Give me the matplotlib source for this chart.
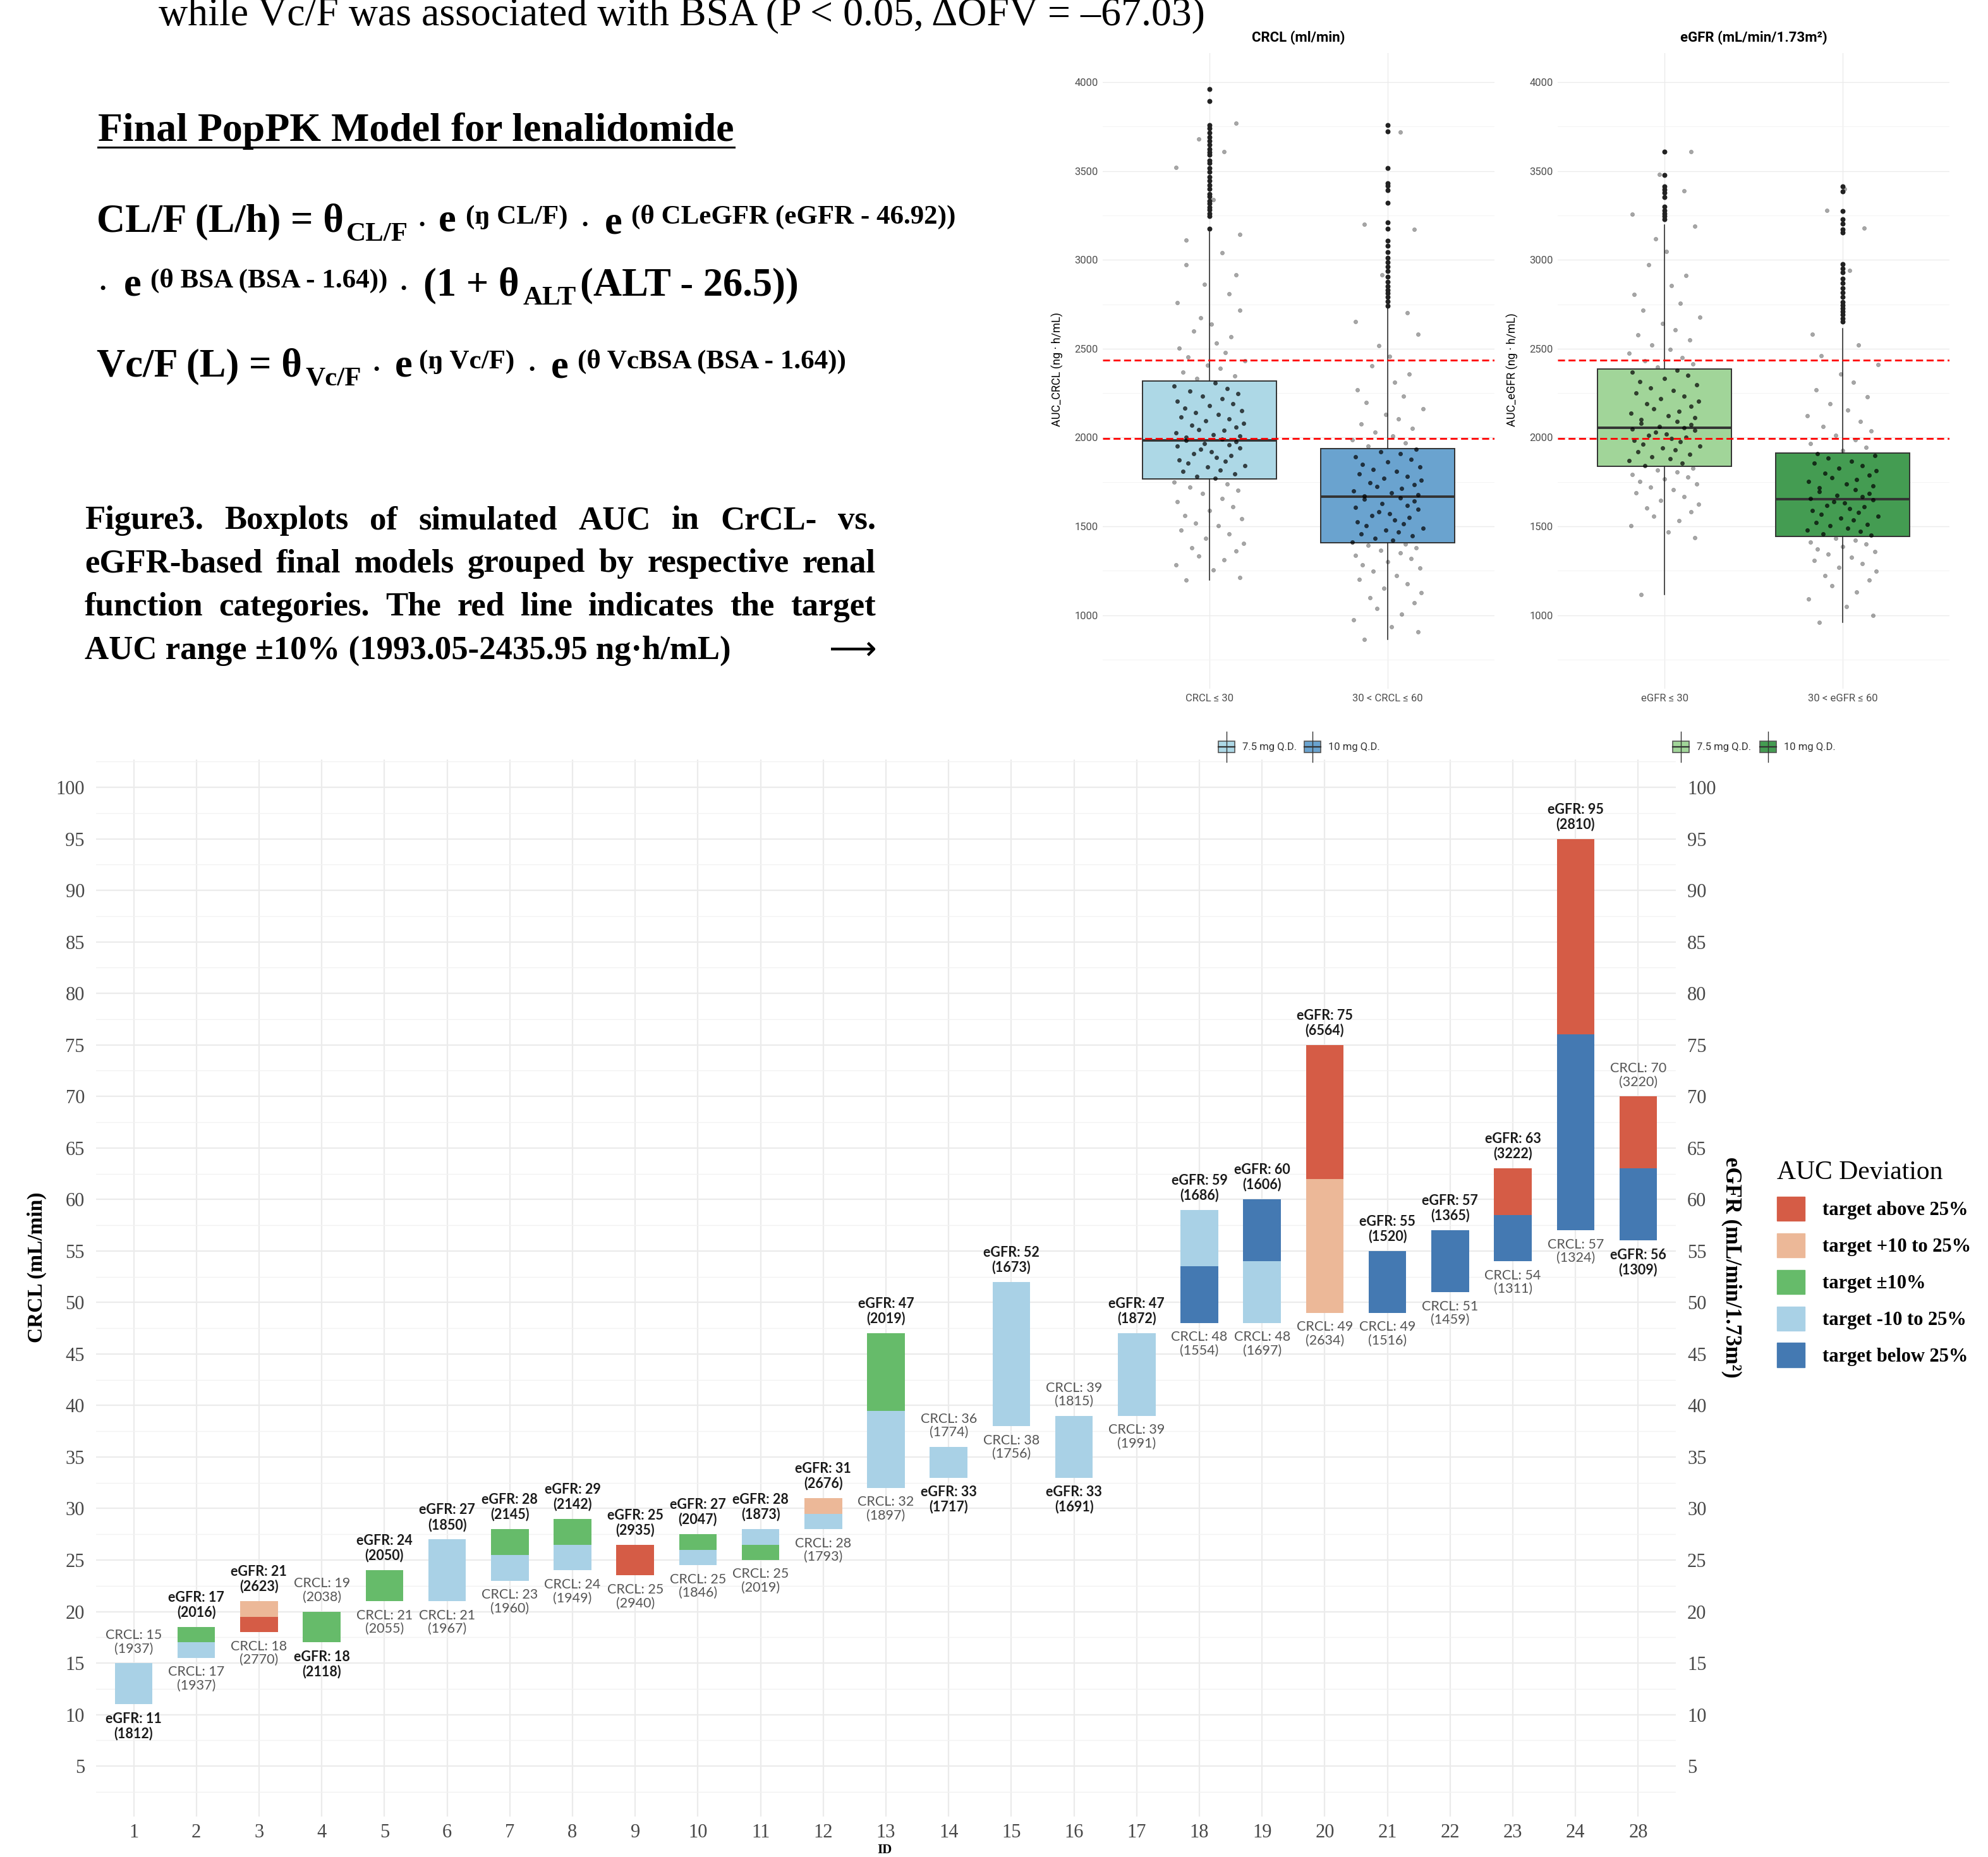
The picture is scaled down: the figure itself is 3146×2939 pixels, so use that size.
import matplotlib
matplotlib.use("Agg")
import matplotlib.pyplot as plt
from matplotlib import font_manager
from matplotlib.patches import Patch, Rectangle
from matplotlib.lines import Line2D

# ---------------- datos por paciente (gráfico inferior) ----------------
ids = ["1", "2", "3", "4", "5", "6", "7", "8", "9", "10", "11", "12", "13",
       "14", "15", "16", "17", "18", "19", "20", "21", "22", "23", "24", "28"]
crcl = [15, 17, 18, 19, 21, 21, 23, 24, 25, 25, 25, 28, 32,
        36, 38, 39, 39, 48, 48, 49, 49, 51, 54, 57, 70]
egfr = [11, 17, 21, 18, 24, 27, 28, 29, 25, 27, 28, 31, 47,
        33, 52, 33, 47, 59, 60, 75, 55, 57, 63, 95, 56]
auc_crcl = [1937, 1937, 2770, 2038, 2055, 1967, 1960, 1949, 2940, 1846, 2019, 1793, 1897,
            1774, 1756, 1815, 1991, 1554, 1697, 2634, 1516, 1459, 1311, 1324, 3220]
auc_egfr = [1812, 2016, 2623, 2118, 2050, 1850, 2145, 2142, 2935, 2047, 1873, 2676, 2019,
            1717, 1673, 1691, 1872, 1686, 1606, 6564, 1520, 1365, 3222, 2810, 1309]

# rango objetivo de AUC (ng·h/mL)
auc_lo, auc_hi = 1993.05, 2435.95

cat_labels = ["target above 25%", "target +10 to 25%", "target ±10%",
              "target -10 to 25%", "target below 25%"]
cat_colors = ["#d55c46", "#ecb898", "#66bb6a", "#a9d1e6", "#4479b2"]

# ---------------- datos de los boxplots ----------------
crcl_groups = ["CRCL ≤ 30", "30 < CRCL ≤ 60"]
egfr_groups = ["eGFR ≤ 30", "30 < eGFR ≤ 60"]
doses = ["7.5 mg Q.D.", "10 mg Q.D."]

# q1, mediana, q3 y extremos de los bigotes
crcl_q1 = [1767, 1408]
crcl_med = [1982, 1667]
crcl_q3 = [2319, 1938]
crcl_wlo = [1199, 864]
crcl_whi = [3157, 2730]

egfr_q1 = [1838, 1444]
egfr_med = [2055, 1653]
egfr_q3 = [2385, 1914]
egfr_wlo = [1117, 960]
egfr_whi = [3195, 2613]

auc_crcl_le30 = [1199, 1212, 1255, 1283, 1310, 1334, 1362, 1378, 1405, 1431, 1458, 1479, 1502,
                 1518, 1544, 1561, 1590, 1612, 1638, 1655, 1684, 1702, 1721, 1738, 1750,
                 1772, 1781, 1796, 1809, 1818, 1833, 1841, 1856, 1868, 1874, 1889, 1897, 1910,
                 1921, 1933, 1940, 1951, 1958, 1966, 1977, 1985, 1992, 2001, 2009, 2017, 2028,
                 2039, 2046, 2058, 2069, 2081, 2093, 2104, 2117, 2128, 2139, 2152, 2166, 2178,
                 2191, 2203, 2219, 2234, 2247, 2262, 2276, 2291, 2306,
                 2331, 2348, 2367, 2389, 2406, 2431, 2452, 2478, 2503, 2531, 2566, 2598, 2637,
                 2672, 2715, 2760, 2808, 2862, 2915, 2973, 3040, 3110, 3145, 3340, 3520, 3610,
                 3680, 3770]
auc_crcl_30_60 = [864, 905, 936, 972, 1005, 1038, 1070, 1098, 1125, 1152, 1178, 1201, 1223,
                  1247, 1266, 1284, 1302, 1320, 1337, 1351, 1366, 1380, 1393, 1402,
                  1412, 1421, 1432, 1445, 1456, 1468, 1479, 1491, 1503, 1514, 1526, 1537, 1549,
                  1560, 1572, 1583, 1595, 1606, 1618, 1629, 1641, 1652, 1661, 1670, 1679, 1690,
                  1701, 1713, 1724, 1736, 1747, 1759, 1770, 1782, 1795, 1808, 1821, 1835, 1849,
                  1863, 1878, 1893, 1908, 1921, 1933,
                  1951, 1968, 1987, 2008, 2029, 2053, 2078, 2104, 2131, 2163, 2196, 2232, 2270,
                  2311, 2356, 2405, 2458, 2517, 2580, 2652, 2701, 2915, 3170, 3200, 3720]
auc_egfr_le30 = [1117, 1435, 1468, 1502, 1531, 1556, 1581, 1603, 1625, 1646, 1668, 1689, 1706,
                 1722, 1738, 1751, 1766, 1779, 1792, 1805, 1816, 1827,
                 1843, 1856, 1869, 1880, 1893, 1905, 1918, 1930, 1941, 1953, 1964, 1975, 1985,
                 1994, 2003, 2012, 2021, 2030, 2039, 2047, 2055, 2063, 2072, 2081, 2091, 2101,
                 2112, 2124, 2136, 2149, 2162, 2175, 2189, 2204, 2219, 2234, 2249, 2264, 2280,
                 2296, 2313, 2331, 2349, 2367, 2380,
                 2398, 2414, 2432, 2451, 2473, 2495, 2521, 2548, 2576, 2607, 2640, 2676, 2715,
                 2757, 2804, 2855, 2912, 2973, 3046, 3120, 3190, 3258, 3390, 3480, 3610]
auc_egfr_30_60 = [960, 1000, 1048, 1092, 1131, 1165, 1196, 1222, 1246, 1268, 1289, 1308, 1326,
                  1342, 1358, 1372, 1386, 1399, 1411, 1422, 1433,
                  1449, 1459, 1470, 1480, 1491, 1502, 1512, 1523, 1534, 1545, 1556, 1566, 1577,
                  1588, 1598, 1609, 1619, 1630, 1640, 1649, 1657, 1666, 1676, 1686, 1696, 1707,
                  1718, 1729, 1740, 1751, 1763, 1775, 1787, 1800, 1813, 1826, 1840, 1854, 1868,
                  1883, 1898, 1910,
                  1928, 1946, 1966, 1988, 2011, 2036, 2063, 2092, 2122, 2155, 2191, 2228, 2268,
                  2312, 2358, 2409, 2462, 2520, 2583, 2940, 3180, 3280, 3400]

out_crcl_le30 = [3175, 3248, 3262, 3281, 3296, 3318, 3333, 3355, 3372, 3398, 3421, 3446, 3468,
                 3495, 3517, 3545, 3561, 3590, 3606, 3625, 3648, 3668, 3690, 3715, 3741, 3758,
                 3893, 3962]
out_crcl_30_60 = [2742, 2768, 2790, 2812, 2830, 2851, 2876, 2905, 2937, 2962, 2985, 3011, 3042,
                  3078, 3106, 3175, 3210, 3321, 3393, 3418, 3432, 3518, 3722, 3760]
out_egfr_le30 = [3228, 3246, 3262, 3279, 3301, 3352, 3378, 3395, 3412, 3478, 3608]
out_egfr_30_60 = [2652, 2671, 2690, 2708, 2727, 2745, 2763, 2790, 2815, 2840, 2868, 2895, 2930,
                  2952, 2975, 3155, 3172, 3205, 3230, 3275, 3385, 3412]

# desplazamientos horizontales de los puntos (jitter)
jitter = [-0.13, 0.17, 0.02, -0.19, 0.08, -0.06, 0.15, -0.10, 0.19, -0.02, 0.11, -0.16, 0.05,
          -0.08, 0.18, -0.14, 0.00, 0.13, -0.18, 0.07, -0.04, 0.16, -0.11, 0.10, -0.20, 0.03,
          -0.07, 0.14, -0.15, 0.06, -0.01, 0.20, -0.12, 0.09, -0.17, 0.04, 0.12, -0.09, 0.01,
          -0.05, 0.17, -0.18, 0.11, -0.03, 0.15, -0.13, 0.07]

# ---------------- figura ----------------
W, H = 3146, 2939
fig = plt.figure(figsize=(W / 100, H / 100), dpi=100)
fig.patch.set_facecolor("white")
renderer = fig.canvas.get_renderer()

disponibles = {f.name for f in font_manager.fontManager.ttflist}
SERIF = "Liberation Serif"
SANS = "Liberation Sans Narrow" if "Liberation Sans Narrow" in disponibles else "Roboto"
LABEL = "Lato"


def fx(px):
    return px / W


def fy(py):
    return 1 - py / H


# ---------------- texto de la izquierda ----------------
fig.text(fx(251), fy(40), "while Vc/F was associated with BSA (P < 0.05, ΔOFV = –67.03)",
         family=SERIF, fontsize=46, va="baseline", ha="left")

t = fig.text(fx(155), fy(223), "Final PopPK Model for lenalidomide", family=SERIF,
             fontsize=46, fontweight="bold", va="baseline", ha="left")
ancho = t.get_window_extent(renderer).width
fig.add_artist(Line2D([fx(155), fx(155 + ancho)], [fy(233), fy(233)], color="black", lw=2.2))


def linea_formula(x0, base, piezas):
    # piezas: (texto, tamaño, desplazamiento vertical px, hueco posterior px)
    x = x0
    for s, size, dy, gap in piezas:
        a = fig.text(fx(x), fy(base - dy), s, family=SERIF, fontsize=size,
                     fontweight="bold", va="baseline", ha="left")
        x += a.get_window_extent(renderer).width + gap


MAIN, SMALL = 45, 31
linea_formula(153, 366, [("CL/F (L/h) = θ", MAIN, 0, 4), ("CL/F", SMALL, -15, 14),
                         ("·", SMALL, -3, 20), ("e", MAIN, 0, 15), ("(ŋ CL/F)", SMALL, 12, 20),
                         ("·", SMALL, -3, 24), ("e", MAIN, -3, 14),
                         ("(θ CLeGFR (eGFR - 46.92))", SMALL, 12, 0)])
linea_formula(155, 467, [("·", SMALL, -3, 26), ("e", MAIN, 0, 15),
                         ("(θ BSA (BSA - 1.64))", SMALL, 12, 18), ("·", SMALL, -3, 24),
                         ("(1 + θ", MAIN, 0, 6), ("ALT", SMALL, -15, 6),
                         ("(ALT - 26.5))", MAIN, 0, 0)])
linea_formula(153, 595, [("Vc/F (L) = θ", MAIN, 0, 6), ("Vc/F", SMALL, -15, 16),
                         ("·", SMALL, -3, 22), ("e", MAIN, 0, 10), ("(ŋ Vc/F)", SMALL, 12, 20),
                         ("·", SMALL, -3, 24), ("e", MAIN, -3, 14),
                         ("(θ VcBSA (BSA - 1.64))", SMALL, 12, 0)])


def linea_justificada(texto, x0, x1, base, size):
    palabras = texto.split()
    arts = [fig.text(0, fy(base), p, family=SERIF, fontsize=size, fontweight="bold",
                     va="baseline", ha="left") for p in palabras]
    anchos = [a.get_window_extent(renderer).width for a in arts]
    hueco = (x1 - x0 - sum(anchos)) / (len(palabras) - 1)
    x = x0
    for a, w in zip(arts, anchos):
        a.set_x(fx(x))
        x += w + hueco


caption = ["Figure3. Boxplots of simulated AUC in CrCL- vs.",
           "eGFR-based final models grouped by respective renal",
           "function categories. The red line indicates the target"]
for k, linea in enumerate(caption):
    linea_justificada(linea, 134, 1386, 837 + 68.5 * k, 38)
fig.text(fx(134), fy(1043), "AUC range ±10% (1993.05-2435.95 ng·h/mL)", family=SERIF,
         fontsize=38, fontweight="bold", va="baseline", ha="left")
fig.text(fx(1312), fy(1043), "⟶", family=[SERIF, "DejaVu Sans"], fontsize=38,
         va="baseline", ha="left")


# ---------------- boxplots (arriba a la derecha) ----------------
def panel_cajas(left, titulo, ylabel, grupos, q1, med, q3, wlo, whi, puntos, atipicos, colores):
    ax = fig.add_axes([fx(left), fy(1090), 620 / W, 1006 / H])
    ax.set_xlim(0.4, 2.6)
    ax.set_ylim(586, 4164)
    ax.set_yticks([1000, 1500, 2000, 2500, 3000, 3500, 4000])
    ax.set_yticks([750, 1250, 1750, 2250, 2750, 3250, 3750], minor=True)
    ax.set_xticks([1, 2])
    ax.set_xticklabels(grupos)
    ax.grid(which="major", color="#ebebeb", lw=1.0)
    ax.grid(which="minor", axis="y", color="#f3f3f3", lw=0.7)
    ax.set_axisbelow(True)
    for s in ax.spines.values():
        s.set_visible(False)
    ax.tick_params(which="both", length=0, labelsize=12, labelcolor="#4d4d4d")
    ax.tick_params(axis="x", pad=6)
    ax.tick_params(axis="y", pad=5)
    for lab in ax.get_xticklabels() + ax.get_yticklabels():
        lab.set_family(SANS)

    for i in range(2):
        vals = puntos[i]
        xs = [i + 1 + jitter[k % len(jitter)] for k in range(len(vals))]
        fuera = [(x, v) for x, v in zip(xs, vals) if v < q1[i] or v > q3[i]]
        dentro = [(x, v) for x, v in zip(xs, vals) if q1[i] <= v <= q3[i]]
        ax.scatter([p[0] for p in fuera], [p[1] for p in fuera], s=20, color="black",
                   alpha=0.35, linewidths=0.4, zorder=1)
        ax.scatter([p[0] for p in dentro], [p[1] for p in dentro], s=20, color="black",
                   alpha=0.7, linewidths=0.4, zorder=4)
        ax.scatter([i + 1] * len(atipicos[i]), atipicos[i], s=22, color="#222222", zorder=3)

    stats = [dict(med=med[i], q1=q1[i], q3=q3[i], whislo=wlo[i], whishi=whi[i], fliers=[])
             for i in range(2)]
    bp = ax.bxp(stats, positions=[1, 2], widths=0.75, patch_artist=True, showcaps=False,
                showfliers=False, manage_ticks=False,
                boxprops=dict(edgecolor="#333333", linewidth=1.4),
                whiskerprops=dict(color="#222222", linewidth=1.1),
                medianprops=dict(color="#333333", linewidth=2.8))
    for caja, c in zip(bp["boxes"], colores):
        caja.set_facecolor(c)
        caja.set_zorder(2)
    for ln in bp["whiskers"] + bp["medians"]:
        ln.set_zorder(3)

    for v in (auc_lo, auc_hi):
        ax.axhline(v, color="red", lw=2.0, ls=(0, (4, 2)), zorder=5)

    xc = left + 310
    fig.text(fx(xc), fy(60), titulo, family=SANS, fontsize=16, fontweight="bold",
             ha="center", va="center")
    fig.text(fx(left - 72), fy(585), ylabel, family=SANS, fontsize=13, rotation=90,
             ha="center", va="center")
    return ax


panel_cajas(1745, "CRCL (ml/min)", "AUC_CRCL (ng · h/mL)", crcl_groups,
            crcl_q1, crcl_med, crcl_q3, crcl_wlo, crcl_whi,
            [auc_crcl_le30, auc_crcl_30_60], [out_crcl_le30, out_crcl_30_60],
            ["#add8e6", "#6aa3cf"])
panel_cajas(2465, "eGFR (mL/min/1.73m²)", "AUC_eGFR (ng · h/mL)", egfr_groups,
            egfr_q1, egfr_med, egfr_q3, egfr_wlo, egfr_whi,
            [auc_egfr_le30, auc_egfr_30_60], [out_egfr_le30, out_egfr_30_60],
            ["#a1d599", "#449c52"])


def clave(xc, yc, color, texto):
    fig.add_artist(Line2D([fx(xc), fx(xc)], [fy(yc - 24), fy(yc + 24)], color="#333333", lw=1))
    fig.add_artist(Rectangle((fx(xc - 13), fy(yc + 9)), 26 / W, 18 / H, facecolor=color,
                             edgecolor="#555555", lw=1.2))
    fig.add_artist(Line2D([fx(xc - 13), fx(xc + 13)], [fy(yc), fy(yc)], color="#333333", lw=1.6))
    fig.text(fx(xc + 25), fy(yc), texto, family=SANS, fontsize=12, color="#333333",
             ha="left", va="center")


clave(1941, 1182, "#add8e6", doses[0])
clave(2077, 1182, "#6aa3cf", doses[1])
clave(2660, 1182, "#a1d599", doses[0])
clave(2798, 1182, "#449c52", doses[1])

# ---------------- gráfico inferior: CRCL vs eGFR por paciente ----------------
target = (auc_lo + auc_hi) / 2


def categoria(auc):
    pct = (auc - target) / target * 100
    if pct > 25:
        return 0
    if pct > 10:
        return 1
    if pct >= -10:
        return 2
    if pct >= -25:
        return 3
    return 4


ax = fig.add_axes([fx(152), fy(2875), 2500 / W, 1673 / H])
n = len(ids)
pos = list(range(1, n + 1))
ax.set_xlim(0.4, n + 0.6)
ax.set_ylim(0.1, 102.7)
ax.set_xticks(pos)
ax.set_xticklabels(ids)
ax.set_yticks(range(5, 101, 5))
ax.set_yticks([2.5 + 5 * k for k in range(21)], minor=True)
ax.grid(which="major", color="#ebebeb", lw=1.6)
ax.grid(which="minor", axis="y", color="#f2f2f2", lw=1.0)
ax.set_axisbelow(True)
for s in ax.spines.values():
    s.set_visible(False)
ax.tick_params(which="both", length=0, labelsize=22, labelcolor="#474747")
ax.tick_params(axis="y", labelleft=True, labelright=True, pad=13)
ax.tick_params(axis="x", pad=8)
for lab in ax.get_xticklabels() + ax.get_yticklabels():
    lab.set_family(SERIF)
for tk in ax.yaxis.get_major_ticks():
    tk.label2.set_family(SERIF)

for i in range(n):
    c, e = crcl[i], egfr[i]
    lo, hi = min(c, e), max(c, e)
    if hi - lo < 3:
        m = (lo + hi) / 2
        lo, hi = m - 1.5, m + 1.5
    mid = (lo + hi) / 2
    cc = cat_colors[categoria(auc_crcl[i])]
    ce = cat_colors[categoria(auc_egfr[i])]
    if c <= e:
        ax.bar(pos[i], mid - lo, bottom=lo, width=0.6, color=cc, linewidth=0)
        ax.bar(pos[i], hi - mid, bottom=mid, width=0.6, color=ce, linewidth=0)
    else:
        ax.bar(pos[i], mid - lo, bottom=lo, width=0.6, color=ce, linewidth=0)
        ax.bar(pos[i], hi - mid, bottom=mid, width=0.6, color=cc, linewidth=0)

    txt_c = f"CRCL: {c}\n({auc_crcl[i]})"
    txt_e = f"eGFR: {e}\n({auc_egfr[i]})"
    arriba_e = e >= c
    ax.annotate(txt_e, (pos[i], hi if arriba_e else lo), xytext=(0, 9 if arriba_e else -9),
                textcoords="offset points", ha="center", va="bottom" if arriba_e else "top",
                family=LABEL, fontsize=15.5, fontweight="bold", color="#1a1a1a",
                linespacing=1.1)
    ax.annotate(txt_c, (pos[i], lo if arriba_e else hi), xytext=(0, -9 if arriba_e else 9),
                textcoords="offset points", ha="center", va="top" if arriba_e else "bottom",
                family=LABEL, fontsize=15.5, color="#555555", linespacing=1.1)

fig.text(fx(58), fy(2006), "CRCL (mL/min)", family=SERIF, fontsize=24, fontweight="bold",
         rotation=90, ha="center", va="center")
fig.text(fx(2740), fy(2006), "eGFR (mL/min/1.73m²)", family=SERIF, fontsize=25,
         fontweight="bold", rotation=-90, ha="center", va="center")
fig.text(fx(1400), fy(2938), "ID", family=SERIF, fontsize=15, fontweight="bold",
         ha="center", va="bottom")

handles = [Patch(facecolor=col, edgecolor=col) for col in cat_colors]
leg = ax.legend(handles, cat_labels, title="AUC Deviation", loc="upper left",
                bbox_to_anchor=(fx(2812), fy(1836)), bbox_transform=fig.transFigure,
                frameon=False, prop=dict(family=SERIF, size=22, weight="bold"),
                title_fontproperties=dict(family=SERIF, size=30), alignment="left",
                handlelength=1.45, handleheight=1.55, labelspacing=0.64, handletextpad=0.9,
                borderpad=0, borderaxespad=0)

fig.savefig("out.png", dpi=100, facecolor="white")
